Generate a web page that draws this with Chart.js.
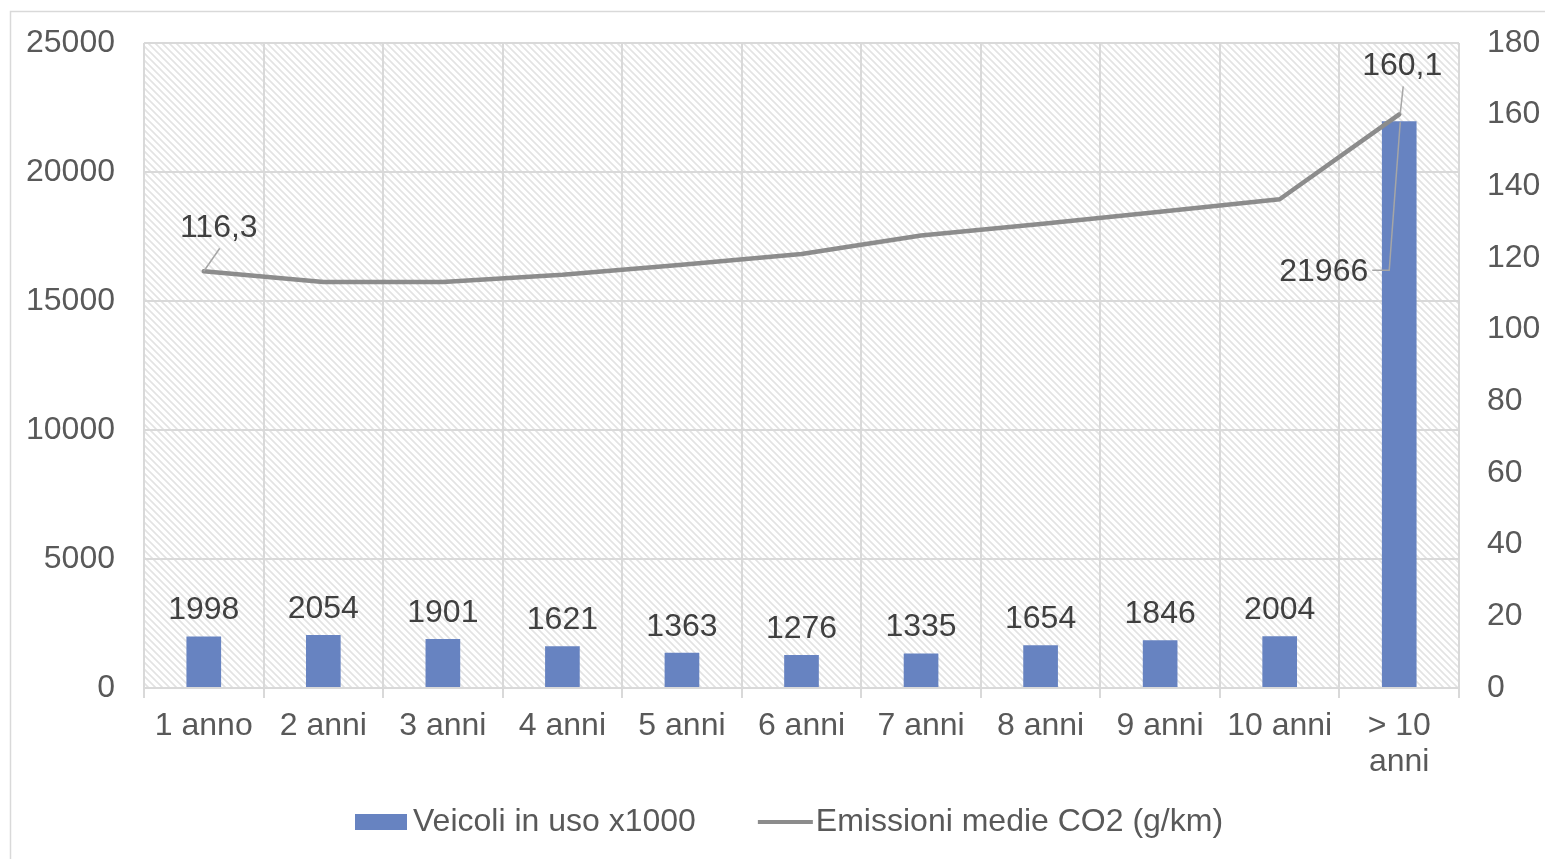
<!DOCTYPE html>
<html>
<head>
<meta charset="utf-8">
<script src="https://cdn.jsdelivr.net/npm/chart.js@4.4.1/dist/chart.umd.min.js"></script>
<style>
html,body{margin:0;padding:0;background:#fff;}
#wrap{width:1545px;height:859px;position:relative;}
</style>
</head>
<body>
<div id="wrap"><canvas id="c" width="1545" height="859"></canvas></div>
<script>
const categories = ['1 anno','2 anni','3 anni','4 anni','5 anni','6 anni','7 anni','8 anni','9 anni','10 anni',['> 10','anni']];
const vehicles = [1998, 2054, 1901, 1621, 1363, 1276, 1335, 1654, 1846, 2004, 21966];
const emissions = [116.3, 113.3, 113.3, 115.3, 118.1, 121.1, 126.3, 129.5, 132.9, 136.4, 160.1];
const leftTicks = [0, 5000, 10000, 15000, 20000, 25000];
const rightTicks = [0, 20, 40, 60, 80, 100, 120, 140, 160, 180];
const vehiclesLabel = 'Veicoli in uso x1000';
const emissionsLabel = 'Emissioni medie CO2 (g/km)';
const emissionLabelIdx = [0, 10];

const FONT = '"Liberation Sans", Arial, sans-serif';
const FS = 32;
const BLUE = '#6783c1';
const LINEGRAY = '#8c8c8c';
const GRID = '#d9d9d9';

function makePattern(ctx){
  const s = 7;
  const pc = document.createElement('canvas');
  pc.width = s; pc.height = s;
  const p = pc.getContext('2d');
  p.fillStyle = '#ffffff'; p.fillRect(0,0,s,s);
  p.strokeStyle = '#e3e3e3'; p.lineWidth = 1.6;
  p.beginPath();
  p.moveTo(-1,-1); p.lineTo(s+1,s+1);
  p.moveTo(-1,s-1); p.lineTo(1,s+1);
  p.moveTo(s-1,-1); p.lineTo(s+1,1);
  p.stroke();
  return ctx.createPattern(pc,'repeat');
}

const decor = {
  id:'decor',
  beforeDraw(chart){
    const {ctx, chartArea:a} = chart;
    ctx.save();
    ctx.strokeStyle = GRID; ctx.lineWidth = 1.5;
    ctx.strokeRect(10.5, 11.5, 1600, 900);
    ctx.fillStyle = makePattern(ctx);
    ctx.fillRect(a.left, a.top, a.right-a.left, a.bottom-a.top);
    ctx.restore();
  },
  afterDatasetsDraw(chart){
    const {ctx} = chart;
    const xs = chart.scales.x, yl = chart.scales.y, yr = chart.scales.y1;
    ctx.save();
    ctx.font = FS + 'px ' + FONT;
    ctx.fillStyle = '#404040';
    ctx.textBaseline = 'middle';
    ctx.textAlign = 'center';
    vehicles.forEach((v,i)=>{
      const x = xs.getPixelForValue(i);
      const y = yl.getPixelForValue(v);
      if (i === vehicles.length-1) {
        ctx.textAlign = 'right';
        ctx.fillText(String(v), x - 31, y + 151);
        ctx.strokeStyle = '#a6a6a6'; ctx.lineWidth = 1.5;
        ctx.beginPath();
        ctx.moveTo(x - 27, y + 149); ctx.lineTo(x - 10, y + 149); ctx.lineTo(x + 1, y + 1);
        ctx.stroke();
        ctx.textAlign = 'center';
      } else {
        ctx.fillText(String(v), x, y - 26);
      }
    });
    ctx.strokeStyle = '#a6a6a6'; ctx.lineWidth = 1.5;
    emissionLabelIdx.forEach(i=>{
      const x = xs.getPixelForValue(i);
      const y = yr.getPixelForValue(emissions[i]);
      const t = String(emissions[i]).replace('.', ',');
      if (i === 0) {
        ctx.fillText(t, x + 15, y - 43);
        ctx.beginPath(); ctx.moveTo(x, y); ctx.lineTo(x + 16, y - 23); ctx.stroke();
      } else {
        ctx.fillText(t, x + 3, y - 48);
        ctx.beginPath(); ctx.moveTo(x + 1, y - 1); ctx.lineTo(x + 4, y - 28); ctx.stroke();
      }
    });
    ctx.restore();
  },
  afterDraw(chart){
    const {ctx} = chart;
    ctx.save();
    ctx.font = FS + 'px ' + FONT;
    ctx.textBaseline = 'middle';
    ctx.textAlign = 'left';
    const cy = 822;
    let x = 355;
    ctx.fillStyle = BLUE;
    ctx.fillRect(x, cy - 8, 52, 16);
    x += 58;
    ctx.fillStyle = '#595959';
    ctx.fillText(vehiclesLabel, x, cy);
    x += ctx.measureText(vehiclesLabel).width + 62;
    ctx.strokeStyle = LINEGRAY; ctx.lineWidth = 4;
    ctx.beginPath(); ctx.moveTo(x, cy); ctx.lineTo(x + 55, cy); ctx.stroke();
    x += 58;
    ctx.fillText(emissionsLabel, x, cy);
    ctx.restore();
  }
};

new Chart(document.getElementById('c'), {
  data: {
    labels: categories,
    datasets: [
      {type:'line', label: emissionsLabel, data: emissions, yAxisID:'y1',
       borderColor: LINEGRAY, backgroundColor: LINEGRAY, borderWidth: 4.5,
       pointRadius: 0, tension: 0, order: 0, borderJoinStyle:'round', borderCapStyle:'round'},
      {type:'bar', label: vehiclesLabel, data: vehicles, yAxisID:'y',
       backgroundColor: BLUE, borderWidth: 0, barPercentage: 0.58, categoryPercentage: 0.5, order: 1}
    ]
  },
  options: {
    responsive:false, animation:false,
    layout:{padding:{top:43, left:0, right:0, bottom:0}},
    plugins:{legend:{display:false}, tooltip:{enabled:false}},
    scales:{
      x:{
        offset:true,
        grid:{display:true, offset:true, color:GRID, lineWidth:2, drawTicks:true, tickLength:10},
        border:{display:false},
        ticks:{color:'#595959', font:{family:FONT, size:FS, lineHeight:1.1}, padding:11, maxRotation:0, autoSkip:false},
        afterFit(s){ s.height = 171; s.paddingLeft = 0; s.paddingRight = 0; }
      },
      y:{
        position:'left', min:0, max:25000,
        afterBuildTicks(s){ s.ticks = leftTicks.map(v=>({value:v})); },
        grid:{color:GRID, lineWidth:2, drawTicks:false},
        border:{display:false},
        ticks:{color:'#595959', font:{family:FONT, size:FS}, padding:29, callback:(v)=>String(v)},
        afterFit(s){ s.width = 144; s.paddingTop = 0; s.paddingBottom = 0; }
      },
      y1:{
        position:'right', min:0, max:180,
        afterBuildTicks(s){ s.ticks = rightTicks.map(v=>({value:v})); },
        grid:{display:false, drawTicks:false},
        border:{display:false},
        ticks:{color:'#595959', font:{family:FONT, size:FS}, padding:28, callback:(v)=>String(v)},
        afterFit(s){ s.width = 86; s.paddingTop = 0; s.paddingBottom = 0; }
      }
    }
  },
  plugins:[decor]
});
</script>
</body>
</html>
